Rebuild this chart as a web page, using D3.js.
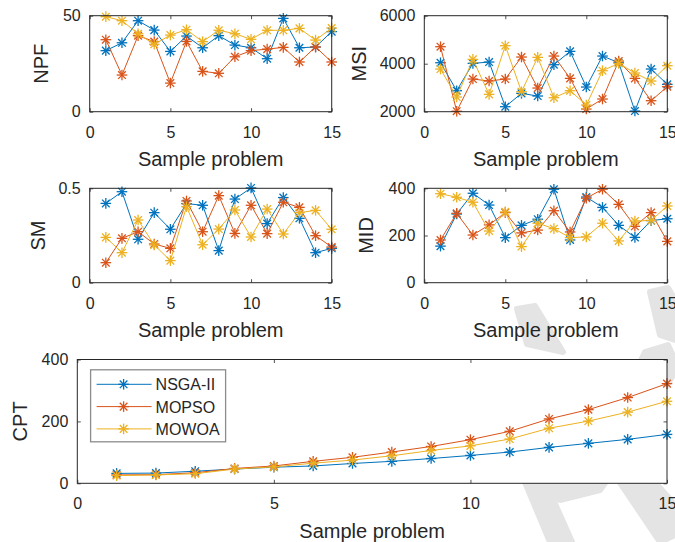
<!DOCTYPE html>
<html>
<head>
<meta charset="utf-8">
<script src="https://cdn.jsdelivr.net/npm/d3@7"></script>
<style>
  body { margin: 0; background: #fff; }
  text { font-family: "Liberation Sans", Arial, sans-serif; fill: #262626; }
</style>
</head>
<body>
<svg width="675" height="542"></svg>
<script>
// sample problems 1..15
var problems = [1, 2, 3, 4, 5, 6, 7, 8, 9, 10, 11, 12, 13, 14, 15];
var xTicks = [0, 5, 10, 15];
var seriesNames = ["NSGA-II", "MOPSO", "MOWOA"];
var colors = ["#0072BD", "#D95319", "#EDB120"];

var npfNSGA = [31.8, 35.9, 47.4, 42.5, 31.4, 39.4, 33.3, 39.6, 34.7, 33.3, 27.6, 48.6, 33.3, 33.7, 41.7];
var npfMOPSO = [37.5, 19.1, 39.6, 36.5, 14.9, 36.6, 21.0, 20.0, 28.6, 31.8, 32.6, 33.5, 25.9, 33.7, 25.9];
var npfMOWOA = [49.5, 47.4, 40.6, 35.1, 39.9, 42.7, 36.5, 42.4, 40.6, 37.7, 42.4, 42.4, 43.4, 37.3, 43.6];

var msiNSGA = [4040, 2875, 4014, 4069, 2208, 2764, 2653, 3958, 4514, 3028, 4319, 4042, 2028, 3778, 3139];
var msiMOPSO = [4708, 2020, 3361, 3278, 3361, 4278, 2986, 4319, 3389, 2111, 2528, 4111, 3389, 2458, 3042];
var msiMOWOA = [3778, 2611, 4181, 2722, 4750, 2833, 4264, 2583, 2875, 2278, 3708, 4014, 3611, 3278, 3917];

var smNSGA = [0.420, 0.482, 0.230, 0.371, 0.283, 0.419, 0.410, 0.170, 0.443, 0.502, 0.313, 0.451, 0.341, 0.159, 0.182];
var smMOPSO = [0.106, 0.235, 0.270, 0.205, 0.182, 0.433, 0.270, 0.461, 0.261, 0.410, 0.260, 0.426, 0.399, 0.249, 0.189];
var smMOWOA = [0.240, 0.159, 0.332, 0.200, 0.117, 0.403, 0.201, 0.284, 0.385, 0.242, 0.390, 0.258, 0.371, 0.383, 0.283];

var midNSGA = [155, 291, 379, 329, 191, 243, 269, 396, 181, 363, 319, 243, 192, 263, 271];
var midMOPSO = [181, 294, 202, 245, 297, 211, 223, 305, 215, 358, 396, 332, 239, 297, 175];
var midMOWOA = [377, 362, 341, 219, 300, 153, 252, 229, 191, 194, 252, 177, 261, 264, 325];

var cptNSGA = [32, 33, 39, 46, 52, 56, 64, 71, 80, 90, 101, 116, 129, 142, 158];
var cptMOPSO = [27, 28, 34, 48, 56, 71, 84, 101, 119, 141, 168, 208, 238, 277, 322];
var cptMOWOA = [25, 27, 31, 46, 53, 65, 75, 89, 106, 121, 143, 178, 201, 230, 265];

var svg = d3.select("svg");

// light watermark behind the plots
var watermark = [
    [[517, 309], [535, 306], [563, 352], [527, 344]],
    [[650, 292], [668, 288], [675, 300], [675, 340], [660, 335]],
    [[645, 352], [668, 345], [675, 360], [675, 372], [620, 460], [595, 455]],
    [[520, 468], [595, 452], [620, 462], [600, 490], [560, 500], [530, 490]],
    [[522, 475], [540, 470], [572, 542], [550, 542]],
    [[598, 450], [618, 440], [675, 505], [675, 535], [660, 542]]
];
svg.selectAll(".wm")
    .data(watermark)
    .enter().append("path")
    .attr("class", "wm")
    .attr("d", function (d) { return "M" + d.join("L") + "Z"; })
    .attr("fill", "#e4e4e4")
    .attr("stroke", "#e4e4e4")
    .attr("stroke-width", 6)
    .attr("stroke-linejoin", "round");

var panels = [
    { label: "NPF", domain: [0, 50], ticks: [0, 50], series: [npfNSGA, npfMOPSO, npfMOWOA],
      left: 89.7, right: 331.7, top: 15.7, bottom: 111.7, labelX: 48 },
    { label: "MSI", domain: [2000, 6000], ticks: [2000, 4000, 6000], series: [msiNSGA, msiMOPSO, msiMOWOA],
      left: 424.3, right: 667.3, top: 15.7, bottom: 111.7, labelX: 366 },
    { label: "SM", domain: [0, 0.5], ticks: [0, 0.5], series: [smNSGA, smMOPSO, smMOWOA],
      left: 89.7, right: 331.7, top: 188.3, bottom: 282.7, labelX: 45 },
    { label: "MID", domain: [0, 400], ticks: [0, 200, 400], series: [midNSGA, midMOPSO, midMOWOA],
      left: 424.3, right: 667.3, top: 188.3, bottom: 282.7, labelX: 373 },
    { label: "CPT", domain: [0, 400], ticks: [0, 200, 400], series: [cptNSGA, cptMOPSO, cptMOWOA],
      left: 77.3, right: 667, top: 359.5, bottom: 483.3, labelX: 27, legend: true }
];

function star(sel, r) {
    var d = r * 0.72;
    sel.append("line").attr("x1", -r).attr("x2", r).attr("y1", 0).attr("y2", 0);
    sel.append("line").attr("x1", 0).attr("x2", 0).attr("y1", -r).attr("y2", r);
    sel.append("line").attr("x1", -d).attr("x2", d).attr("y1", -d).attr("y2", d);
    sel.append("line").attr("x1", -d).attr("x2", d).attr("y1", d).attr("y2", -d);
}

function drawPanel(p) {
    var w = p.right - p.left, h = p.bottom - p.top;
    var g = svg.append("g").attr("transform", "translate(" + p.left + "," + p.top + ")");

    var x = d3.scaleLinear().domain([0, 15]).range([0, w]);
    var y = d3.scaleLinear().domain(p.domain).range([h, 0]);

    g.append("rect").attr("width", w).attr("height", h).attr("fill", "#fff");

    var fmt = function (d) { return String(d); };

    var xb = g.append("g").attr("transform", "translate(0," + h + ")")
        .call(d3.axisBottom(x).tickValues(xTicks).tickFormat(fmt).tickSize(-3.5).tickSizeOuter(0).tickPadding(14.5));
    var xt = g.append("g")
        .call(d3.axisTop(x).tickValues(xTicks).tickFormat("").tickSize(-3.5).tickSizeOuter(0));
    var yl = g.append("g")
        .call(d3.axisLeft(y).tickValues(p.ticks).tickFormat(fmt).tickSize(-3.5).tickSizeOuter(0).tickPadding(9));
    var yr = g.append("g").attr("transform", "translate(" + w + ",0)")
        .call(d3.axisRight(y).tickValues(p.ticks).tickFormat("").tickSize(-3.5).tickSizeOuter(0));

    [xb, xt, yl, yr].forEach(function (a) {
        a.select(".domain").remove();
        a.selectAll("line").attr("stroke", "#262626").attr("stroke-width", 0.8);
        a.selectAll("text").attr("font-size", 16).attr("fill", "#262626")
            .style("font-family", "'Liberation Sans', Arial, sans-serif");
    });

    var line = d3.line()
        .x(function (d, i) { return x(problems[i]); })
        .y(function (d) { return y(d); });

    p.series.forEach(function (s, k) {
        g.append("path")
            .datum(s)
            .attr("d", line)
            .attr("fill", "none")
            .attr("stroke", colors[k])
            .attr("stroke-width", 1);
        var m = g.selectAll(".m" + k)
            .data(s)
            .enter().append("g")
            .attr("class", "m" + k)
            .attr("transform", function (d, i) { return "translate(" + x(problems[i]) + "," + y(d) + ")"; })
            .attr("stroke", colors[k])
            .attr("stroke-width", 1.3);
        star(m, 5.3);
    });

    g.append("rect").attr("width", w).attr("height", h)
        .attr("fill", "none").attr("stroke", "#262626").attr("stroke-width", 1);

    g.append("text")
        .attr("x", w / 2).attr("y", h + 54.5)
        .attr("text-anchor", "middle")
        .attr("font-size", 20)
        .text("Sample problem");

    svg.append("text")
        .attr("transform", "translate(" + p.labelX + "," + (p.top + h / 2) + ") rotate(-90)")
        .attr("text-anchor", "middle")
        .attr("font-size", 20)
        .text(p.label);

    if (p.legend) {
        var lg = svg.append("g").attr("transform", "translate(90.6,369.8)");
        lg.append("rect").attr("width", 135).attr("height", 72)
            .attr("fill", "#fff").attr("stroke", "#8c8c8c").attr("stroke-width", 1.3);
        seriesNames.forEach(function (name, k) {
            var row = lg.append("g").attr("transform", "translate(0," + (14.5 + k * 22.3) + ")");
            row.append("line").attr("x1", 6).attr("x2", 61).attr("y1", 0).attr("y2", 0)
                .attr("stroke", colors[k]).attr("stroke-width", 1);
            var mk = row.append("g").attr("transform", "translate(33,0)")
                .attr("stroke", colors[k]).attr("stroke-width", 1.3);
            star(mk, 5.3);
            row.append("text").attr("x", 65).attr("y", 6)
                .attr("font-size", 16).text(name);
        });
    }
}

panels.forEach(drawPanel);
</script>
</body>
</html>
